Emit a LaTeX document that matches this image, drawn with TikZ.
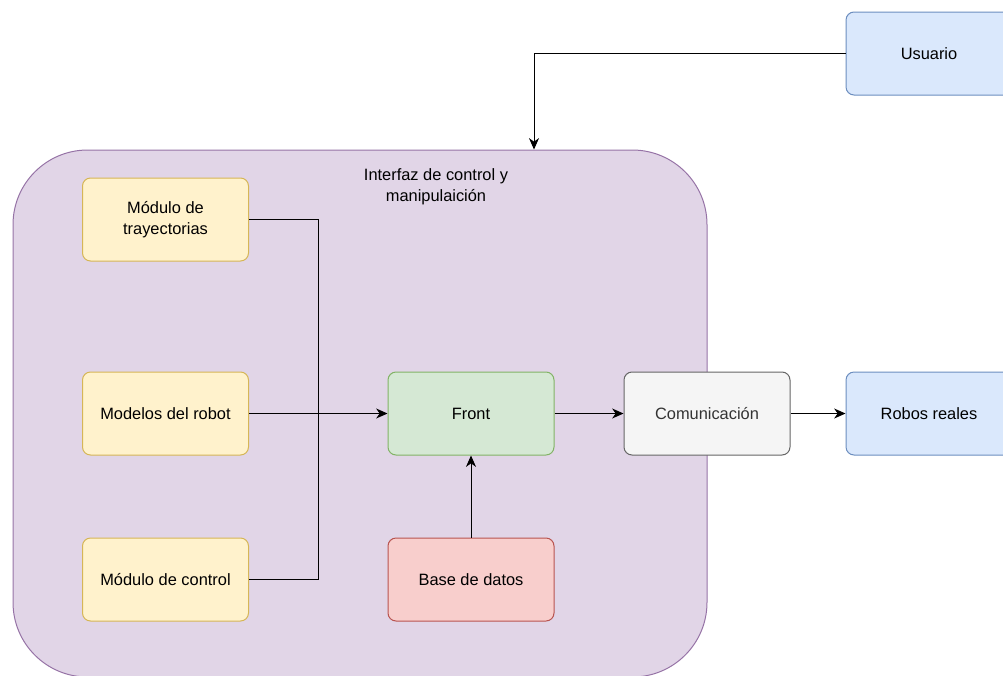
\documentclass[tikz,border=0pt]{standalone}
\usepackage{fontspec}
\setmainfont{Liberation Sans}
\usetikzlibrary{arrows.meta}

\definecolor{ylwFill}{HTML}{FFF2CC}
\definecolor{ylwLine}{HTML}{D6B656}
\definecolor{grnFill}{HTML}{D5E8D4}
\definecolor{grnLine}{HTML}{82B366}
\definecolor{redFill}{HTML}{F8CECC}
\definecolor{redLine}{HTML}{B85450}
\definecolor{gryFill}{HTML}{F5F5F5}
\definecolor{gryLine}{HTML}{666666}
\definecolor{gryText}{HTML}{333333}
\definecolor{bluFill}{HTML}{DAE8FC}
\definecolor{bluLine}{HTML}{6C8EBF}
\definecolor{purFill}{HTML}{E1D5E7}
\definecolor{purLine}{HTML}{9673A6}

\begin{document}
\begin{tikzpicture}[x=0.75pt,y=-0.75pt,
  font=\fontsize{12.3}{15.6}\selectfont,
  box/.style={draw, line width=0.75pt, rounded corners=6pt,
    minimum width=124.5pt, minimum height=62.25pt, align=center, inner sep=2pt},
  yellowbox/.style={box, fill=ylwFill, draw=ylwLine},
  greenbox/.style={box, fill=grnFill, draw=grnLine},
  redbox/.style={box, fill=redFill, draw=redLine},
  greybox/.style={box, fill=gryFill, draw=gryLine, text=gryText},
  bluebox/.style={box, fill=bluFill, draw=bluLine},
  groupbox/.style={draw=purLine, fill=purFill, line width=0.75pt,
    rounded corners=56pt, minimum width=520.5pt, minimum height=395.25pt},
  wire/.style={line width=0.75pt, draw=black},
  arrow/.style={wire, -{Stealth[length=8.5pt,width=7.5pt,inset=2.6pt]}}]

\useasboundingbox (0,0) rectangle (1003,675);

% group container
\node[groupbox] (iface) at (360,413.5) {};
\node[align=center] (ifacetitle) at (436,187) {Interfaz de control y\\manipulaición};

% inner modules
\node[yellowbox] (tray)  at (165.5,219.5) {Módulo de\\trayectorias};
\node[yellowbox] (model) at (165.5,413.5) {Modelos del robot};
\node[yellowbox] (ctrl)  at (165.5,579.5) {Módulo de control};
\node[greenbox]  (front) at (471,413.5) {Front};
\node[redbox]    (db)    at (471,579.5) {Base de datos};
\node[greybox]   (comm)  at (707,413.5) {Comunicación};

% external actors
\node[bluebox] (robots) at (929,413.5) {Robos reales};
\node[bluebox] (user)   at (929,53.5)  {Usuario};

% connectors
\coordinate (bus) at (318,413.5);
\coordinate (userbend) at (534,53.5);

\draw[wire] (tray.east) -| (bus);
\draw[wire] (ctrl.east) -| (bus);
\draw[arrow] (model.east) -- (front.west);
\draw[arrow] (db.north) -- (front.south);
\draw[arrow] (front.east) -- (comm.west);
\draw[arrow] (comm.east) -- (robots.west);
\draw[arrow] (user.west) -- (userbend) -- (userbend |- iface.north);
\end{tikzpicture}
\end{document}
